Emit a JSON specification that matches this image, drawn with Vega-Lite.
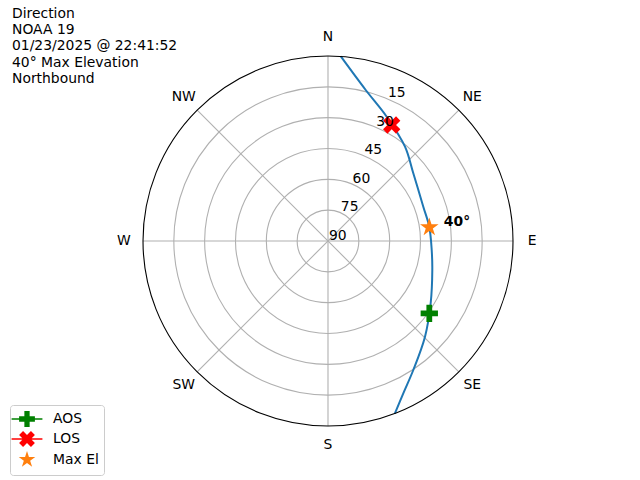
{
  "$schema": "https://vega.github.io/schema/vega-lite/v6.json",
  "width": 370,
  "height": 370,
  "autosize": {"type": "none"},
  "padding": {"left": 143, "top": 56, "right": 127, "bottom": 54},
  "background": "white",
  "title": {
    "text": ["Direction", "NOAA 19", "01/23/2025 @ 22:41:52", "40° Max Elevation", "Northbound"],
    "anchor": "start",
    "frame": "group",
    "orient": "top",
    "baseline": "top",
    "align": "left",
    "offset": -56,
    "dx": -131,
    "font": "DejaVu Sans",
    "fontSize": 13.9,
    "fontWeight": "normal",
    "lineHeight": 16.25,
    "color": "black"
  },
  "datasets": {
    "rings": [{"r": 15}, {"r": 30}, {"r": 45}, {"r": 60}, {"r": 75}],
    "outer": [{"r": 90}],
    "spokes": [
      {"x": 0, "y": -90, "x2": 0, "y2": 90},
      {"x": -63.64, "y": -63.64, "x2": 63.64, "y2": 63.64},
      {"x": -90, "y": 0, "x2": 90, "y2": 0},
      {"x": -63.64, "y": 63.64, "x2": 63.64, "y2": -63.64}
    ],
    "dirs": [
      {"x": 0, "y": 99.3, "label": "N"},
      {"x": 70.2, "y": 70.2, "label": "NE"},
      {"x": 99.3, "y": 0, "label": "E"},
      {"x": 70.2, "y": -70.2, "label": "SE"},
      {"x": 0, "y": -99.3, "label": "S"},
      {"x": -70.2, "y": -70.2, "label": "SW"},
      {"x": -99.3, "y": 0, "label": "W"},
      {"x": -70.2, "y": 70.2, "label": "NW"}
    ],
    "rlabels": [
      {"x": 28.70, "y": 69.29, "label": "15"},
      {"x": 22.96, "y": 55.43, "label": "30"},
      {"x": 17.22, "y": 41.57, "label": "45"},
      {"x": 11.48, "y": 27.72, "label": "60"},
      {"x": 5.74, "y": 13.86, "label": "75"},
      {"x": 0, "y": 0, "label": "90"}
    ],
    "track": [
      {"i": 0, "x": 6.24, "y": 89.78},
      {"i": 1, "x": 18.34, "y": 73.46},
      {"i": 2, "x": 28.56, "y": 60.47},
      {"i": 3, "x": 37.46, "y": 45.88},
      {"i": 4, "x": 41.50, "y": 32.94},
      {"i": 5, "x": 46.36, "y": 16.69},
      {"i": 6, "x": 49.28, "y": 6.81},
      {"i": 7, "x": 50.45, "y": -4.38},
      {"i": 8, "x": 50.74, "y": -14.11},
      {"i": 9, "x": 49.96, "y": -30.16},
      {"i": 10, "x": 47.19, "y": -46.56},
      {"i": 11, "x": 41.50, "y": -62.76},
      {"i": 12, "x": 36.63, "y": -74.09},
      {"i": 13, "x": 32.51, "y": -83.93}
    ],
    "events": [
      {"series": "AOS", "x": 49.28, "y": -35.17},
      {"series": "LOS", "x": 30.99, "y": 56.43},
      {"series": "Max El", "x": 49.28, "y": 6.66}
    ],
    "maxlabel": [{"x": 49.28, "y": 6.66, "label": "40°"}]
  },
  "encoding": {
    "x": {"field": "x", "type": "quantitative", "scale": {"domain": [-90, 90], "nice": false, "zero": false}, "axis": null},
    "y": {"field": "y", "type": "quantitative", "scale": {"domain": [-90, 90], "nice": false, "zero": false}, "axis": null}
  },
  "layer": [
    {
      "data": {"name": "rings"},
      "mark": {"type": "arc", "theta": 0, "theta2": 6.2832, "filled": false, "fill": null, "stroke": "#b0b0b0", "strokeWidth": 1.1},
      "encoding": {
        "x": null, "y": null,
        "radius": {"field": "r", "type": "quantitative", "stack": null, "scale": {"type": "linear", "domain": [0, 90], "range": [0, 185], "zero": true}}
      }
    },
    {
      "data": {"name": "spokes"},
      "mark": {"type": "rule", "stroke": "#b0b0b0", "strokeWidth": 1.1},
      "encoding": {
        "x2": {"field": "x2"},
        "y2": {"field": "y2"}
      }
    },
    {
      "data": {"name": "track"},
      "mark": {"type": "line", "stroke": "#1f77b4", "strokeWidth": 2, "interpolate": "catmull-rom", "clip": false},
      "encoding": {"order": {"field": "i", "type": "quantitative"}}
    },
    {
      "data": {"name": "outer"},
      "mark": {"type": "arc", "theta": 0, "theta2": 6.2832, "filled": false, "fill": null, "stroke": "black", "strokeWidth": 1.1},
      "encoding": {
        "x": null, "y": null,
        "radius": {"field": "r", "type": "quantitative", "stack": null, "scale": {"type": "linear", "domain": [0, 90], "range": [0, 185], "zero": true}}
      }
    },
    {
      "data": {"name": "events"},
      "transform": [{"filter": "datum.series === 'AOS'"}],
      "mark": {"type": "point", "filled": true, "opacity": 1, "size": 300, "color": "#008000",
        "shape": "M-0.333,-1L0.333,-1L0.333,-0.333L1,-0.333L1,0.333L0.333,0.333L0.333,1L-0.333,1L-0.333,0.333L-1,0.333L-1,-0.333L-0.333,-0.333Z"}
    },
    {
      "data": {"name": "events"},
      "transform": [{"filter": "datum.series === 'LOS'"}],
      "mark": {"type": "point", "filled": true, "opacity": 1, "size": 300, "color": "#ff0000",
        "shape": "M-0.5,1L0,0.5L0.5,1L1,0.5L0.5,0L1,-0.5L0.5,-1L0,-0.5L-0.5,-1L-1,-0.5L-0.5,0L-1,0.5Z"}
    },
    {
      "data": {"name": "events"},
      "transform": [{"filter": "datum.series === 'Max El'"}],
      "mark": {"type": "point", "filled": true, "opacity": 1, "size": 380, "color": "#ff7f0e",
        "shape": "M0,-1L0.2245,-0.309L0.951,-0.309L0.3633,0.118L0.5878,0.809L0,0.382L-0.5878,0.809L-0.3633,0.118L-0.951,-0.309L-0.2245,-0.309Z"}
    },
    {
      "data": {"name": "events"},
      "transform": [{"filter": "false"}],
      "mark": {"type": "point", "filled": true, "opacity": 1},
      "encoding": {
        "color": {
          "field": "series", "type": "nominal",
          "scale": {"domain": ["AOS", "LOS", "Max El"], "range": ["#008000", "#ff0000", "#ff7f0e"]},
          "legend": {
            "title": null,
            "orient": "none",
            "legendX": -133,
            "legendY": 349,
            "padding": 5,
            "symbolOffset": 3,
            "rowPadding": -2.3,
            "labelOffset": 17,
            "labelFont": "DejaVu Sans",
            "labelFontSize": 13.9,
            "labelColor": "black",
            "symbolSize": 250,
            "strokeColor": "#cccccc",
            "fillColor": "white",
            "cornerRadius": 3,
            "symbolOpacity": 1
          }
        },
        "shape": {
          "field": "series", "type": "nominal",
          "scale": {"domain": ["AOS", "LOS", "Max El"], "range": [
            "M-0.333,-1L0.333,-1L0.333,-0.333L1,-0.333L1,-0.095L1.95,-0.095L1.95,0.095L1,0.095L1,0.333L0.333,0.333L0.333,1L-0.333,1L-0.333,0.333L-1,0.333L-1,0.095L-1.95,0.095L-1.95,-0.095L-1,-0.095L-1,-0.333L-0.333,-0.333Z",
            "M-0.5,1L0,0.5L0.5,1L1,0.5L0.595,0.095L1.95,0.095L1.95,-0.095L0.595,-0.095L1,-0.5L0.5,-1L0,-0.5L-0.5,-1L-1,-0.5L-0.595,-0.095L-1.95,-0.095L-1.95,0.095L-0.595,0.095L-1,0.5Z",
            "M0,-1.1L0.247,-0.34L1.046,-0.34L0.4,0.13L0.6466,0.89L0,0.42L-0.6466,0.89L-0.4,0.13L-1.046,-0.34L-0.247,-0.34Z"
          ]}
        }
      }
    },
    {
      "data": {"name": "dirs"},
      "mark": {"type": "text", "font": "DejaVu Sans", "fontSize": 13.9, "color": "black", "align": "center", "baseline": "middle"},
      "encoding": {"text": {"field": "label"}}
    },
    {
      "data": {"name": "rlabels"},
      "mark": {"type": "text", "font": "DejaVu Sans", "fontSize": 13.9, "color": "black", "align": "left", "baseline": "alphabetic", "dx": 1, "dy": -1.5},
      "encoding": {"text": {"field": "label"}}
    },
    {
      "data": {"name": "maxlabel"},
      "mark": {"type": "text", "font": "DejaVu Sans", "fontSize": 13.9, "fontWeight": "bold", "color": "black", "align": "left", "baseline": "alphabetic", "dx": 14.5, "dy": -1.3},
      "encoding": {"text": {"field": "label"}}
    }
  ],
  "config": {"view": {"stroke": null}}
}
